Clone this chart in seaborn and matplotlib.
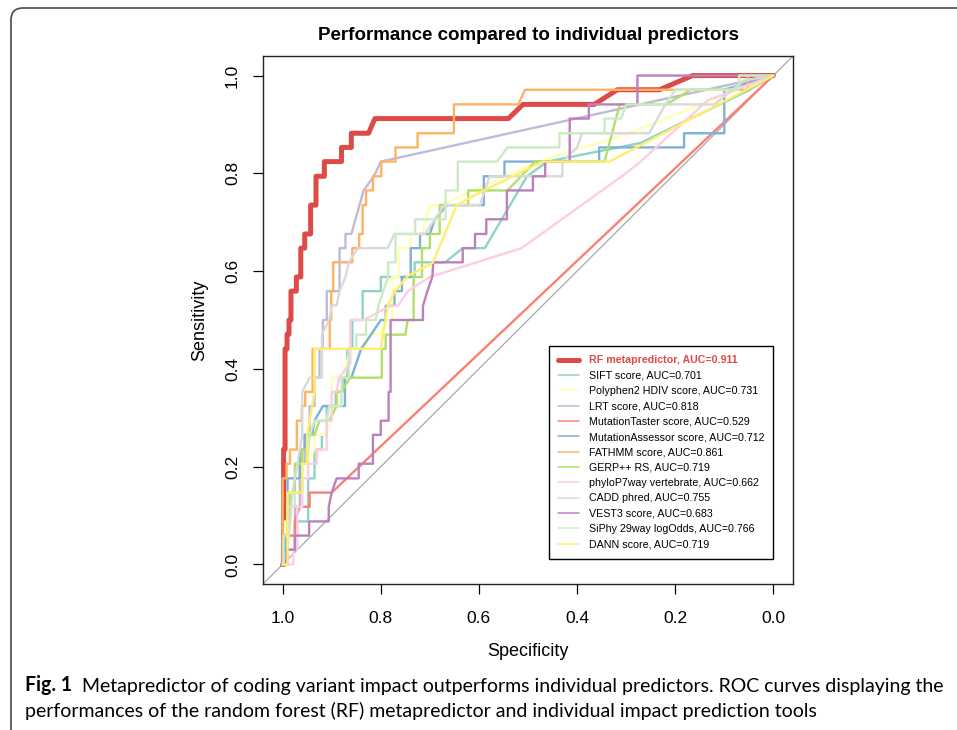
import matplotlib
matplotlib.use("Agg")
import matplotlib.pyplot as plt
import matplotlib.transforms as mtransforms
from matplotlib.patches import FancyBboxPatch
from matplotlib.lines import Line2D
import pandas as pd
import seaborn as sns

sns.set_theme(style="white")
plt.rcParams["font.family"] = ["Liberation Sans", "DejaVu Sans"]

# ---------------- data ----------------
names = ["RF metapredictor", "SIFT score", "Polyphen2 HDIV score", "LRT score",
         "MutationTaster score", "MutationAssessor score", "FATHMM score",
         "GERP++ RS", "phyloP7way vertebrate", "CADD phred", "VEST3 score",
         "SiPhy 29way logOdds", "DANN score"]
aucs = ["0.911", "0.701", "0.731", "0.818", "0.529", "0.712", "0.861",
        "0.719", "0.662", "0.755", "0.683", "0.766", "0.719"]
colors = ["#DC4B48", "#8DD3C7", "#FFFFB3", "#BEBADA", "#FB8072", "#80B1D3",
          "#FDB462", "#B3DE69", "#FCCDE5", "#D9D9D9", "#BC80BD", "#CCEBC5",
          "#FFED6F"]

rf_spec = [1.000, 0.998, 0.998, 0.995, 0.995, 0.991, 0.991, 0.987, 0.987, 0.983,
           0.983, 0.972, 0.972, 0.963, 0.963, 0.955, 0.955, 0.943, 0.943, 0.932,
           0.932, 0.915, 0.915, 0.880, 0.880, 0.860, 0.860, 0.825, 0.812, 0.540,
           0.510, 0.365, 0.318, 0.232, 0.165, 0.000]
rf_sens = [0.000, 0.000, 0.235, 0.235, 0.441, 0.441, 0.471, 0.471, 0.500, 0.500,
           0.559, 0.559, 0.588, 0.588, 0.647, 0.647, 0.676, 0.676, 0.735, 0.735,
           0.794, 0.794, 0.824, 0.824, 0.853, 0.853, 0.882, 0.882, 0.912, 0.912,
           0.941, 0.941, 0.971, 0.971, 1.000, 1.000]

sift_spec = [1.0, 0.99, 0.99, 0.975, 0.975, 0.948, 0.948, 0.935, 0.935, 0.92, 0.92,
             0.91, 0.91, 0.892, 0.892, 0.878, 0.878, 0.868, 0.868, 0.858, 0.858,
             0.837, 0.837, 0.80, 0.80, 0.731, 0.731, 0.669, 0.633, 0.588, 0.502,
             0.461, 0.271, 0.05, 0.0]
sift_sens = [0.0, 0.0, 0.03, 0.03, 0.088, 0.088, 0.176, 0.176, 0.235, 0.235, 0.265,
             0.265, 0.324, 0.324, 0.353, 0.353, 0.382, 0.382, 0.441, 0.441, 0.5,
             0.5, 0.559, 0.559, 0.588, 0.588, 0.618, 0.618, 0.647, 0.647, 0.794,
             0.824, 0.862, 0.97, 1.0]

pp2_spec = [1.0, 0.995, 0.995, 0.99, 0.99, 0.975, 0.975, 0.95, 0.935, 0.935, 0.915,
            0.90, 0.90, 0.875, 0.87, 0.86, 0.83, 0.825, 0.80, 0.79, 0.777, 0.777,
            0.763, 0.763, 0.739, 0.739, 0.715, 0.70, 0.677, 0.48, 0.30, 0.10, 0.0]
pp2_sens = [0.0, 0.0, 0.088, 0.088, 0.147, 0.147, 0.206, 0.206, 0.235, 0.265, 0.265,
            0.294, 0.382, 0.382, 0.412, 0.441, 0.441, 0.47, 0.47, 0.5, 0.5, 0.588,
            0.588, 0.647, 0.647, 0.676, 0.676, 0.735, 0.735, 0.824, 0.88, 0.96, 1.0]

lrt_spec = [1.0, 0.99, 0.99, 0.975, 0.975, 0.965, 0.965, 0.955, 0.955, 0.945, 0.945,
            0.935, 0.935, 0.925, 0.925, 0.918, 0.918, 0.910, 0.910, 0.904, 0.884,
            0.884, 0.872, 0.872, 0.86, 0.835, 0.814, 0.800, 0.05, 0.0]
lrt_sens = [0.0, 0.0, 0.03, 0.03, 0.118, 0.118, 0.206, 0.206, 0.265, 0.265, 0.324,
            0.324, 0.382, 0.382, 0.441, 0.441, 0.5, 0.5, 0.559, 0.559, 0.559, 0.647,
            0.647, 0.676, 0.676, 0.765, 0.794, 0.824, 0.99, 1.0]

mt_spec = [1.0, 0.993, 0.993, 0.99, 0.975, 0.975, 0.965, 0.945, 0.945, 0.90, 0.0]
mt_sens = [0.0, 0.0, 0.03, 0.059, 0.059, 0.088, 0.118, 0.118, 0.147, 0.147, 1.0]

ma_spec = [1.0, 0.995, 0.995, 0.99, 0.99, 0.965, 0.965, 0.955, 0.955, 0.94, 0.935,
           0.918, 0.873, 0.873, 0.86, 0.84, 0.82, 0.80, 0.79, 0.79, 0.772, 0.772,
           0.757, 0.757, 0.739, 0.739, 0.72, 0.72, 0.70, 0.69, 0.665, 0.59, 0.59,
           0.548, 0.548, 0.355, 0.355, 0.182, 0.182, 0.10, 0.10, 0.0]
ma_sens = [0.0, 0.0, 0.06, 0.06, 0.176, 0.176, 0.235, 0.235, 0.265, 0.265, 0.294,
           0.324, 0.324, 0.382, 0.382, 0.441, 0.47, 0.5, 0.5, 0.529, 0.529, 0.559,
           0.559, 0.588, 0.588, 0.647, 0.647, 0.676, 0.676, 0.706, 0.735, 0.735,
           0.794, 0.794, 0.824, 0.824, 0.853, 0.853, 0.882, 0.882, 0.971, 1.0]

fat_spec = [1.0, 1.0, 0.992, 0.992, 0.985, 0.985, 0.971, 0.971, 0.961, 0.961, 0.954,
            0.954, 0.939, 0.939, 0.904, 0.904, 0.901, 0.901, 0.897, 0.897, 0.858,
            0.858, 0.844, 0.844, 0.837, 0.837, 0.830, 0.830, 0.816, 0.816, 0.799,
            0.799, 0.770, 0.770, 0.725, 0.725, 0.651, 0.651, 0.520, 0.506, 0.052,
            0.052, 0.0]
fat_sens = [0.0, 0.176, 0.176, 0.206, 0.206, 0.235, 0.235, 0.294, 0.294, 0.324,
            0.324, 0.353, 0.353, 0.441, 0.441, 0.5, 0.5, 0.559, 0.559, 0.618, 0.618,
            0.647, 0.647, 0.676, 0.676, 0.735, 0.735, 0.765, 0.765, 0.794, 0.794,
            0.824, 0.824, 0.853, 0.853, 0.882, 0.882, 0.941, 0.941, 0.971, 0.971,
            1.0, 1.0]

gerp_spec = [1.0, 0.99, 0.99, 0.985, 0.985, 0.975, 0.975, 0.96, 0.96, 0.95, 0.945,
             0.935, 0.925, 0.905, 0.89, 0.89, 0.88, 0.863, 0.798, 0.798, 0.79, 0.79,
             0.75, 0.745, 0.733, 0.733, 0.716, 0.716, 0.70, 0.70, 0.68, 0.68, 0.622,
             0.622, 0.542, 0.485, 0.344, 0.313, 0.218, 0.168, 0.07, 0.07, 0.0]
gerp_sens = [0.0, 0.03, 0.088, 0.088, 0.147, 0.147, 0.206, 0.206, 0.235, 0.235,
             0.265, 0.265, 0.294, 0.294, 0.324, 0.353, 0.353, 0.382, 0.382, 0.441,
             0.441, 0.47, 0.47, 0.5, 0.5, 0.588, 0.588, 0.647, 0.647, 0.676, 0.676,
             0.735, 0.735, 0.765, 0.765, 0.824, 0.824, 0.941, 0.941, 0.971, 0.971,
             1.0, 1.0]

php_spec = [1.0, 0.978, 0.978, 0.97, 0.97, 0.96, 0.96, 0.948, 0.948, 0.93, 0.93,
            0.91, 0.91, 0.90, 0.90, 0.89, 0.885, 0.862, 0.862, 0.835, 0.78, 0.765,
            0.745, 0.70, 0.513, 0.309, 0.274, 0.133, 0.0]
php_sens = [0.0, 0.0, 0.03, 0.03, 0.118, 0.118, 0.176, 0.176, 0.206, 0.206, 0.235,
            0.235, 0.294, 0.294, 0.353, 0.353, 0.382, 0.412, 0.5, 0.5, 0.529, 0.529,
            0.559, 0.588, 0.647, 0.794, 0.821, 0.95, 1.0]

cadd_spec = [1.0, 0.99, 0.985, 0.98, 0.975, 0.965, 0.96, 0.96, 0.945, 0.92, 0.92,
             0.905, 0.90, 0.89, 0.884, 0.872, 0.865, 0.847, 0.786, 0.772, 0.71,
             0.69, 0.67, 0.598, 0.578, 0.43, 0.43, 0.40, 0.39, 0.253, 0.22, 0.12,
             0.06, 0.0]
cadd_sens = [0.0, 0.03, 0.088, 0.147, 0.176, 0.235, 0.265, 0.353, 0.382, 0.382,
             0.47, 0.5, 0.53, 0.53, 0.559, 0.588, 0.618, 0.647, 0.647, 0.676, 0.676,
             0.706, 0.735, 0.735, 0.794, 0.794, 0.824, 0.853, 0.882, 0.882, 0.941,
             0.941, 0.99, 1.0]

vest_spec = [1.0, 0.992, 0.992, 0.975, 0.975, 0.946, 0.946, 0.906, 0.906, 0.90,
             0.89, 0.845, 0.845, 0.816, 0.816, 0.80, 0.80, 0.784, 0.784, 0.78, 0.78,
             0.714, 0.714, 0.705, 0.695, 0.693, 0.633, 0.633, 0.608, 0.608, 0.585,
             0.585, 0.543, 0.543, 0.49, 0.49, 0.465, 0.465, 0.415, 0.415, 0.376,
             0.376, 0.277, 0.277, 0.0]
vest_sens = [0.0, 0.0, 0.03, 0.03, 0.059, 0.059, 0.088, 0.088, 0.118, 0.147, 0.176,
             0.176, 0.206, 0.206, 0.265, 0.265, 0.294, 0.294, 0.353, 0.353, 0.5,
             0.5, 0.529, 0.559, 0.588, 0.618, 0.618, 0.647, 0.647, 0.676, 0.676,
             0.706, 0.706, 0.765, 0.765, 0.794, 0.794, 0.824, 0.824, 0.912, 0.912,
             0.941, 0.941, 1.0, 1.0]

siphy_spec = [1.0, 0.998, 0.998, 0.99, 0.99, 0.975, 0.975, 0.96, 0.96, 0.95, 0.945,
              0.935, 0.91, 0.905, 0.88, 0.88, 0.865, 0.865, 0.85, 0.85, 0.83, 0.83,
              0.81, 0.805, 0.795, 0.785, 0.785, 0.77, 0.77, 0.73, 0.73, 0.668, 0.668,
              0.643, 0.643, 0.563, 0.542, 0.436, 0.436, 0.344, 0.344, 0.31, 0.30,
              0.22, 0.20, 0.07, 0.07, 0.0]
siphy_sens = [0.0, 0.0, 0.059, 0.059, 0.118, 0.118, 0.147, 0.147, 0.206, 0.206,
              0.265, 0.294, 0.294, 0.324, 0.324, 0.382, 0.382, 0.441, 0.441, 0.47,
              0.47, 0.5, 0.5, 0.529, 0.559, 0.588, 0.618, 0.618, 0.676, 0.676, 0.706,
              0.706, 0.765, 0.765, 0.824, 0.824, 0.853, 0.853, 0.882, 0.882, 0.912,
              0.912, 0.941, 0.941, 0.971, 0.971, 1.0, 1.0]

dann_spec = [1.0, 0.99, 0.99, 0.96, 0.96, 0.95, 0.95, 0.945, 0.94, 0.935, 0.935,
             0.80, 0.786, 0.77, 0.745, 0.694, 0.645, 0.60, 0.47, 0.334, 0.0]
dann_sens = [0.0, 0.0, 0.147, 0.147, 0.206, 0.206, 0.265, 0.294, 0.324, 0.353,
             0.441, 0.441, 0.529, 0.56, 0.59, 0.617, 0.735, 0.76, 0.824, 0.824, 1.0]

curves = [(rf_spec, rf_sens), (sift_spec, sift_sens), (pp2_spec, pp2_sens),
          (lrt_spec, lrt_sens), (mt_spec, mt_sens), (ma_spec, ma_sens),
          (fat_spec, fat_sens), (gerp_spec, gerp_sens), (php_spec, php_sens),
          (cadd_spec, cadd_sens), (vest_spec, vest_sens), (siphy_spec, siphy_sens),
          (dann_spec, dann_sens)]

rows = []
for name, (sp, se) in zip(names, curves):
    for i, (a, b) in enumerate(zip(sp, se)):
        rows.append({"model": name, "spec": a, "sens": b, "order": i})
df = pd.DataFrame(rows)

# ---------------- figure ----------------
W, H = 957, 730
fig = plt.figure(figsize=(W / 100, H / 100), dpi=100)
fig.patch.set_facecolor("white")
ax = fig.add_axes([263 / W, 1 - 584 / H, (793 - 263) / W, (584 - 56) / H])
ax.set_facecolor("white")

ax.axline((1, 0), (0, 1), color="#A8A8A8", lw=0.9, zorder=1)

sns.lineplot(data=df[df.model == names[0]], x="spec", y="sens", color=colors[0],
             lw=3.6, sort=False, estimator=None, ax=ax, legend=False, zorder=2)
sns.lineplot(data=df[df.model != names[0]], x="spec", y="sens", hue="model",
             hue_order=names[1:], palette=colors[1:], lw=1.7, sort=False,
             estimator=None, ax=ax, legend=False, zorder=3)

ax.set_xlim(1.04, -0.04)
ax.set_ylim(-0.04, 1.04)
ticks = [1.0, 0.8, 0.6, 0.4, 0.2, 0.0]
ax.set_xticks(ticks)
ax.set_xticklabels([f"{t:.1f}" for t in ticks])
ax.set_yticks(ticks)
ax.set_yticklabels([f"{t:.1f}" for t in ticks], rotation=90, va="center")
ax.tick_params(bottom=True, left=True, direction="out", length=7.5, width=0.9,
               color="black", labelsize=12.5, labelcolor="black")
ax.tick_params(axis="x", pad=12)
ax.tick_params(axis="y", pad=9)
for s in ax.spines.values():
    s.set_color("#222222")
    s.set_linewidth(1.0)
ax.set_xlabel("")
ax.set_ylabel("")

fig.text(528 / W, 1 - 652 / H, "Specificity", ha="center", va="center",
         fontsize=13, color="black")
fig.text(200 / W, 1 - 320 / H, "Sensitivity", ha="center", va="center",
         rotation=90, fontsize=13, color="black")
fig.text(528 / W, 1 - 36 / H, "Performance compared to individual predictors",
         ha="center", va="center", fontsize=13.5, weight="bold", color="black")

# legend
handles = []
for i, c in enumerate(colors):
    handles.append(Line2D([], [], color=c, lw=3.6 if i == 0 else 1.1))
labels = [f"{n}, AUC={a}" for n, a in zip(names, aucs)]
leg = ax.legend(handles, labels, loc="lower right", bbox_to_anchor=(0.0, 0.012),
                bbox_transform=ax.transData, borderaxespad=0, frameon=True,
                fancybox=False, edgecolor="black", framealpha=1, fontsize=7.7,
                handlelength=2.0, handletextpad=0.9, labelspacing=0.5,
                borderpad=0.85)
leg.get_frame().set_linewidth(1.0)
texts = leg.get_texts()
texts[0].set_color(colors[0])
texts[0].set_weight("bold")
for t in texts[1:]:
    t.set_color("black")

# outer rounded frame
frame = FancyBboxPatch((11, -60), 1100, H - 8 + 60,
                       boxstyle="round,pad=0,rounding_size=12",
                       transform=mtransforms.IdentityTransform(), fill=False,
                       ec="#4a4a4a", lw=1.2, clip_on=False)
fig.add_artist(frame)

# caption
cap_font = ["Lato", "DejaVu Sans"]
cs = 13
t1 = fig.text(25 / W, 1 - 691 / H, "Fig. 1", weight="bold", fontsize=cs,
              family=cap_font, color="black", va="baseline")
t2 = ax.annotate("  Metapredictor of coding variant impact outperforms individual "
                 "predictors. ROC curves displaying the",
                 xy=(1, 0), xycoords=t1, fontsize=cs, family=cap_font,
                 color="black", va="bottom", annotation_clip=False)
t3 = fig.text(25 / W, 1 - 717 / H,
              "performances of the random forest (RF) metapredictor and "
              "individual impact prediction tools",
              fontsize=cs, family=cap_font, color="black", va="baseline")

fig.canvas.draw()
r = fig.canvas.get_renderer()
b1 = t1.get_window_extent(r)
b2 = t2.get_window_extent(r)
width = b2.x1 - b1.x0
scale = (942 - 25) / width
for t in (t1, t2, t3):
    t.set_fontsize(cs * scale)

fig.savefig("out.png", dpi=100, facecolor="white")
